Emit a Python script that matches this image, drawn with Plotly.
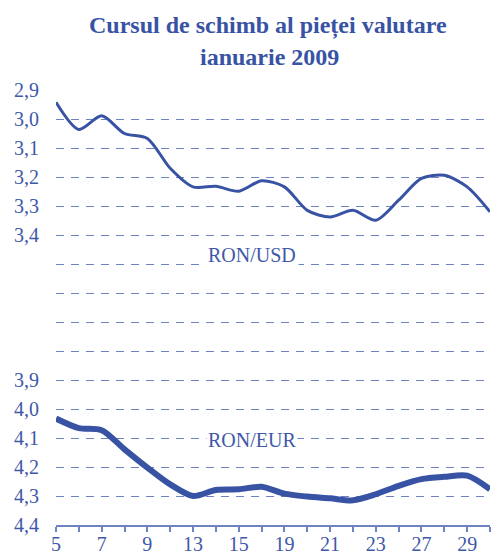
import plotly.graph_objects as go

days = ["5", "6", "7", "8", "9", "12", "13", "14", "15", "16",
        "19", "20", "21", "22", "23", "26", "27", "28", "29", "30"]
ron_usd = [2.942, 3.036, 2.989, 3.050, 3.067, 3.170, 3.234, 3.232, 3.249, 3.213,
           3.234, 3.315, 3.338, 3.315, 3.349, 3.280, 3.205, 3.194, 3.234, 3.320]
ron_eur = [4.033, 4.066, 4.073, 4.139, 4.202, 4.260, 4.300, 4.279, 4.277, 4.268,
           4.292, 4.302, 4.308, 4.315, 4.294, 4.265, 4.242, 4.234, 4.230, 4.277]
y_ticks = [2.9, 3.0, 3.1, 3.2, 3.3, 3.4, 3.5, 3.6, 3.7, 3.8, 3.9, 4.0, 4.1, 4.2, 4.3, 4.4]
y_labels = ["2,9", "3,0", "3,1", "3,2", "3,3", "3,4", "", "", "", "", "3,9", "4,0", "4,1", "4,2", "4,3", "4,4"]
x_labels = [d if i % 2 == 0 else "" for i, d in enumerate(days)]

BLUE = "#3953a4"
TXT = "#4058a8"
GRID = "#6f82c2"
FONT = "Liberation Serif, 'Times New Roman', serif"

W, H = 493, 554
ml, mr, mt, mb = 56, 3, 90, 29
pw, ph = W - ml - mr, H - mt - mb

xi = list(range(len(days)))
fig = go.Figure()
fig.add_trace(go.Scatter(x=xi, y=ron_usd, mode="lines", line=dict(color=BLUE, width=3, shape="spline", smoothing=0.8),
                         name="RON/USD", showlegend=False, hoverinfo="skip"))
fig.add_trace(go.Scatter(x=xi, y=ron_eur, mode="lines", line=dict(color=BLUE, width=6, shape="spline", smoothing=0.8),
                         name="RON/EUR", showlegend=False, hoverinfo="skip"))

fig.add_annotation(x=8.6, y=3.47, xref="x", yref="y", text="RON/USD", showarrow=False,
                   font=dict(family=FONT, size=20, color=TXT), bgcolor="white", borderpad=2)
fig.add_annotation(x=8.6, y=4.107, xref="x", yref="y", text="RON/EUR", showarrow=False,
                   font=dict(family=FONT, size=20, color=TXT), bgcolor="white", borderpad=1)

def px_to_paper(px, py):
    return (px - ml) / pw, (H - py - mb) / ph

tx, ty = px_to_paper(268, 25)
fig.add_annotation(x=tx, y=ty, xref="paper", yref="paper", xanchor="center", yanchor="middle",
                   text="<b>Cursul de schimb al pieței valutare</b>", showarrow=False,
                   font=dict(family=FONT, size=24, color=BLUE))
tx, ty = px_to_paper(269, 57)
fig.add_annotation(x=tx, y=ty, xref="paper", yref="paper", xanchor="center", yanchor="middle",
                   text="<b>ianuarie 2009</b>", showarrow=False,
                   font=dict(family=FONT, size=24, color=BLUE))

fig.update_layout(
    width=W, height=H,
    margin=dict(l=ml, r=mr, t=mt, b=mb),
    paper_bgcolor="white", plot_bgcolor="white",
    font=dict(family=FONT, color=TXT, size=20),
    xaxis=dict(range=[0, len(days) - 1], tickvals=xi, ticktext=x_labels, showgrid=False, automargin=False,
               showline=True, linecolor=GRID, linewidth=1.5, ticks="outside", ticklen=5,
               ticklabelstandoff=-5,
               tickcolor=GRID, tickwidth=1.5, tickfont=dict(family=FONT, size=20, color=TXT), zeroline=False),
    yaxis=dict(range=[4.4, 2.9], tickvals=y_ticks, ticktext=y_labels, showgrid=True, gridcolor=GRID,
               automargin=False,
               griddash="8px,7px", gridwidth=1, showline=False, zeroline=False, ticks="",
               ticklabelstandoff=16, tickfont=dict(family=FONT, size=20, color=TXT)),
)
fig.write_html("out.html", config={"displayModeBar": False},
               post_script="document.body.style.margin='0';document.body.style.overflow='hidden';")
